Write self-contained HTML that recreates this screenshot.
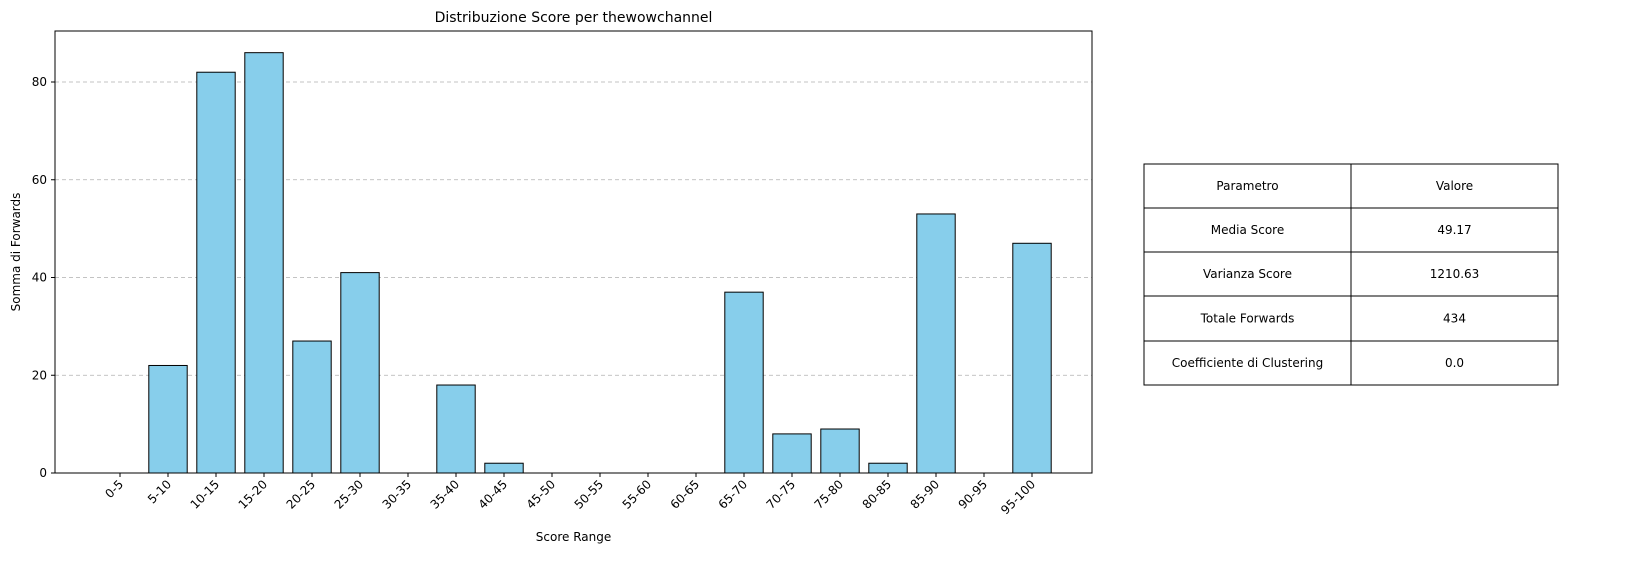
<!DOCTYPE html>
<html><head><meta charset="utf-8"><style>
html,body{margin:0;padding:0;background:#fff;overflow:hidden;width:1640px;height:578px;font-family:"Liberation Sans","DejaVu Sans",sans-serif;}
svg{display:block;}
svg text{font-family:"DejaVu Sans","Liberation Sans",sans-serif;}
</style></head><body>
<svg id="c" width="1640" height="578" viewBox="0 0 1640 578" xmlns="http://www.w3.org/2000/svg">
<rect width="1640" height="578" fill="#fff"/>
<g id="grid"></g>
<g id="bars"></g>
<g id="axes"></g>
<g id="tbl"></g>
</svg>
<script>
const categories=["0-5","5-10","10-15","15-20","20-25","25-30","30-35","35-40","40-45","45-50","50-55","55-60","60-65","65-70","70-75","75-80","80-85","85-90","90-95","95-100"];
const values=[0,22,82,86,27,41,0,18,2,0,0,0,0,37,8,9,2,53,0,47];
const yTicks=[0,20,40,60,80];
const tableRows=[["Parametro","Valore"],["Media Score","49.17"],["Varianza Score","1210.63"],["Totale Forwards","434"],["Coefficiente di Clustering","0.0"]];
const NS="http://www.w3.org/2000/svg";
const L=55,R=1092,T=31,B=473;
function y(v){return B-v*(391/80);}
function x(i){return 120+48*i;}
function mk(p,tag,a,txt){const e=document.createElementNS(NS,tag);for(const k in a)e.setAttribute(k,a[k]);if(txt!==undefined)e.textContent=txt;p.appendChild(e);return e;}
const G=document.getElementById('grid'),Bg=document.getElementById('bars'),A=document.getElementById('axes'),Tb=document.getElementById('tbl');
yTicks.forEach(t=>{
 if(t>0){const g=mk(G,'line',{x1:L,x2:R,y1:y(t),y2:y(t),stroke:'#b0b0b0','stroke-dasharray':'4,3','stroke-width':0.8});
 
 }
 mk(A,'line',{x1:L-4,x2:L,y1:y(t),y2:y(t),stroke:'#000'});
 const tl=mk(A,'text',{x:L-8,y:y(t)+4,'text-anchor':'end','font-size':12},t);
 
 
});
categories.forEach((c,i)=>{
 const r=mk(Bg,'rect',{x:x(i)-19.2,y:y(values[i]),width:38.4,height:B-y(values[i]),fill:'#87ceeb',stroke:'#000','stroke-width':1});
 
 
 if(values[i]===0){const z=mk(Bg,'line',{x1:x(i)-19.2,x2:x(i)+19.2,y1:B,y2:B,stroke:'#000'});
 
 }
 mk(A,'line',{x1:x(i),x2:x(i),y1:B,y2:B+4,stroke:'#000'});
 const t=mk(A,'text',{'text-anchor':'end','font-size':12,transform:`translate(${x(i)+4},${B+12}) rotate(-45)`},c);
 
 
});
const f=mk(A,'rect',{x:L,y:T,width:R-L,height:B-T,fill:'none',stroke:'#000'});


const ti=mk(A,'text',{x:(L+R)/2,y:22,'text-anchor':'middle','font-size':14},'Distribuzione Score per thewowchannel');


const xt=mk(A,'text',{x:(L+R)/2,y:541,'text-anchor':'middle','font-size':12},'Score Range');


const yt=mk(A,'text',{'text-anchor':'middle','font-size':12,transform:`translate(20,${(T+B)/2}) rotate(-90)`},'Somma di Forwards');


const rowsY=[164,208,252,296,341,385];
tableRows.forEach((row,ri)=>{
 [[1144,1351],[1351,1558]].forEach((cx,ci)=>{
  const cell=mk(Tb,'rect',{x:cx[0],y:rowsY[ri],width:cx[1]-cx[0],height:rowsY[ri+1]-rowsY[ri],fill:'#fff',stroke:'#000'});
  
  
  const tx=mk(Tb,'text',{x:(cx[0]+cx[1])/2,y:(rowsY[ri]+rowsY[ri+1])/2+4,'text-anchor':'middle','font-size':12},row[ci]);
  
  
 });
});
</script>
</body></html>
